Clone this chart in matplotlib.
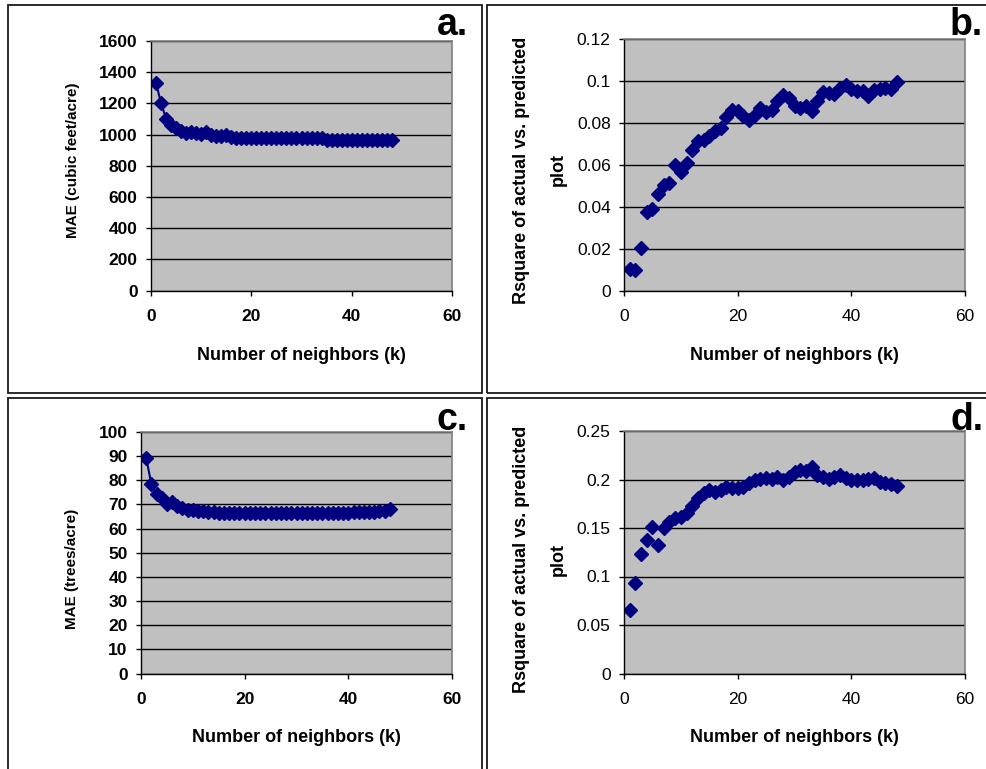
import matplotlib
matplotlib.use("Agg")
import matplotlib.pyplot as plt
from matplotlib.patches import Rectangle

plt.rcParams['font.family'] = ['Liberation Sans', 'DejaVu Sans']

# k = 1..48 for all four panels
k = list(range(1, 49))

# a. MAE (cubic feet/acre)
mae_vol = [1333, 1200, 1103, 1060, 1040, 1025, 1010, 1015, 1010, 1005,
           1015, 995, 990, 992, 995, 985, 980, 978, 978, 978,
           978, 978, 978, 978, 978, 978, 978, 978, 978, 978,
           978, 978, 978, 975, 968, 966, 966, 966, 966, 966,
           966, 966, 966, 966, 966, 966, 966, 966]

# b. Rsquare (volume)
r2_vol = [0.0104, 0.0096, 0.0205, 0.0376, 0.0387, 0.0460, 0.0504, 0.0512, 0.0600, 0.0568,
          0.0611, 0.0669, 0.0712, 0.0720, 0.0740, 0.0760, 0.0776, 0.0830, 0.0864, 0.0856,
          0.0835, 0.0816, 0.0837, 0.0872, 0.0851, 0.0864, 0.0904, 0.0936, 0.0920, 0.0883,
          0.0872, 0.0883, 0.0856, 0.0904, 0.0947, 0.0944, 0.0940, 0.0968, 0.0984, 0.0963,
          0.0952, 0.0955, 0.0931, 0.0957, 0.0963, 0.0968, 0.0963, 0.0995]

# c. MAE (trees/acre)
mae_trees = [89.3, 78.4, 74.4, 72.6, 70.3, 71.0, 69.5, 68.5, 67.9, 67.6,
             67.4, 67.2, 67.0, 66.8, 66.5, 66.5, 66.5, 66.5, 66.5, 66.5,
             66.5, 66.5, 66.5, 66.5, 66.5, 66.5, 66.5, 66.5, 66.5, 66.5,
             66.5, 66.5, 66.5, 66.5, 66.5, 66.5, 66.5, 66.5, 66.5, 66.5,
             66.8, 67.0, 67.0, 67.0, 67.0, 67.2, 67.3, 68.0]

# d. Rsquare (trees)
r2_trees = [0.0653, 0.0928, 0.1237, 0.1380, 0.1510, 0.1320, 0.1505, 0.1560, 0.1600, 0.1615,
            0.1656, 0.1725, 0.1814, 0.1860, 0.1890, 0.1870, 0.1890, 0.1920, 0.1910, 0.1910,
            0.1920, 0.1960, 0.1990, 0.2010, 0.2020, 0.2010, 0.2030, 0.2000, 0.2030, 0.2080,
            0.2096, 0.2090, 0.2124, 0.2045, 0.2030, 0.2010, 0.2030, 0.2045, 0.2020, 0.2000,
            0.2000, 0.2000, 0.2010, 0.2020, 0.1975, 0.1966, 0.1950, 0.1930]

W, H = 986, 769
NAVY = '#000080'


def fx(px):
    return px / W


def fy(py):
    return 1 - py / H


def make_axes(fig, x0, x1, y0, y1):
    # pixel box -> figure fraction
    return fig.add_axes([fx(x0), fy(y1), fx(x1) - fx(x0), fy(y0) - fy(y1)])


def style_axes(ax, yticks, ylim, bold, ylabels=None):
    ax.set_facecolor('#C0C0C0')
    ax.set_xlim(0, 60)
    ax.set_ylim(*ylim)
    ax.set_xticks([0, 20, 40, 60])
    ax.set_yticks(yticks)
    if ylabels is not None:
        ax.set_yticklabels(ylabels)
    ax.yaxis.grid(True, color='black', lw=1.0)
    ax.set_axisbelow(True)
    for s in ['left', 'bottom']:
        ax.spines[s].set_color('black')
        ax.spines[s].set_linewidth(1.0)
    for s in ['top', 'right']:
        ax.spines[s].set_color('#808080')
        ax.spines[s].set_linewidth(1.2)
    ax.tick_params(axis='y', direction='out', length=3.6, width=1, pad=6, labelsize=12.5)
    ax.tick_params(axis='x', direction='out', length=3.6, width=1, pad=10, labelsize=12.5)
    wt = 'bold' if bold else 'normal'
    for lab in ax.get_xticklabels() + ax.get_yticklabels():
        lab.set_fontweight(wt)


fig = plt.figure(figsize=(W / 100, H / 100), dpi=100)

# panel frames
for (x0, y0, x1, y1) in [(8, 5, 482, 393), (487, 5, 992, 393),
                         (8, 398, 482, 775), (487, 398, 992, 775)]:
    fig.add_artist(Rectangle((fx(x0), fy(y1)), fx(x1) - fx(x0), fy(y0) - fy(y1),
                             transform=fig.transFigure, fill=False,
                             edgecolor='#1a1a1a', lw=1.3))

# a.
ax_a = make_axes(fig, 151, 452, 41, 290.5)
ax_a.plot(k, mae_vol, color=NAVY, lw=1.5, marker='D', ms=6.8, mec=NAVY, mfc=NAVY)
style_axes(ax_a, range(0, 1601, 200), (0, 1600), True)

# b.
ax_b = make_axes(fig, 624, 965, 39.3, 290.5)
ax_b.plot(k, r2_vol, ls='none', marker='D', ms=6.8, mec=NAVY, mfc=NAVY)
style_axes(ax_b, [0, 0.02, 0.04, 0.06, 0.08, 0.1, 0.12], (0, 0.12), False,
           ['0', '0.02', '0.04', '0.06', '0.08', '0.1', '0.12'])

# c.
ax_c = make_axes(fig, 141, 452, 432, 673.5)
ax_c.plot(k, mae_trees, color=NAVY, lw=1.5, marker='D', ms=6.8, mec=NAVY, mfc=NAVY)
style_axes(ax_c, range(0, 101, 10), (0, 100), True)

# d.
ax_d = make_axes(fig, 624, 965, 431, 673.5)
ax_d.plot(k, r2_trees, ls='none', marker='D', ms=6.8, mec=NAVY, mfc=NAVY)
style_axes(ax_d, [0, 0.05, 0.1, 0.15, 0.2, 0.25], (0, 0.25), False,
           ['0', '0.05', '0.1', '0.15', '0.2', '0.25'])

# axis titles
xl = dict(fontsize=13, fontweight='bold', ha='center', va='center')
fig.text(fx(301.5), fy(355), 'Number of neighbors (k)', **xl)
fig.text(fx(794), fy(355), 'Number of neighbors (k)', **xl)
fig.text(fx(296.5), fy(737), 'Number of neighbors (k)', **xl)
fig.text(fx(794), fy(737), 'Number of neighbors (k)', **xl)

yl = dict(fontweight='bold', ha='center', va='center', rotation=90)
fig.text(fx(73), fy(160), 'MAE (cubic feet/acre)', fontsize=11, **yl)
fig.text(fx(72), fy(569), 'MAE (trees/acre)', fontsize=11, **yl)
for yc in (170, 559):
    fig.text(fx(522), fy(yc), 'Rsquare of actual vs. predicted', fontsize=13, **yl)
    fig.text(fx(558), fy(yc), 'plot', fontsize=13, **yl)

# panel letters
pl = dict(fontsize=27, fontweight='bold', ha='left', va='baseline')
fig.text(fx(437), fy(35), 'a.', **pl)
fig.text(fx(950), fy(35), 'b.', **pl)
fig.text(fx(437), fy(430), 'c.', **pl)
fig.text(fx(950), fy(430), 'd.', **pl)

fig.savefig('out.png', dpi=100)
